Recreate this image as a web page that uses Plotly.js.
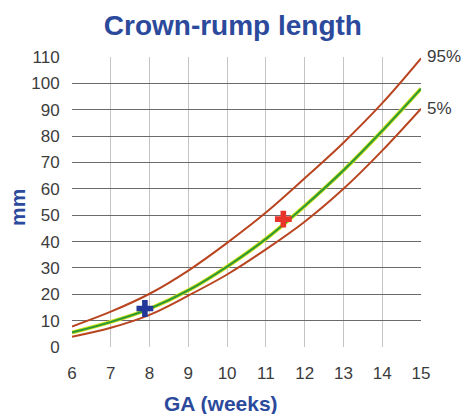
<!DOCTYPE html>
<html>
<head>
<meta charset="utf-8">
<script src="https://cdn.plot.ly/plotly-3.0.1.min.js"></script>
<style>html,body{margin:0;padding:0;background:#fff;}#chart{width:463px;height:414px;}</style>
</head>
<body>
<div id="chart"></div>
<script>
const weeks = [6, 7, 8, 9, 10, 11, 12, 13, 14, 15];
const p95 = [7.8, 13.4, 20.2, 29, 39.5, 51, 64, 77.5, 92.5, 109.5];
const p50 = [5.5, 9.5, 14.5, 21.5, 30.5, 41, 53.5, 67, 82, 98];
const p5 = [3.9, 7.3, 12.2, 19.5, 27.5, 37, 47.5, 60, 74.5, 90.4];
const markBlue = {x: [7.88], y: [14.6]};
const markRed = {x: [11.45], y: [48.5]};
const yTicks = [0, 10, 20, 30, 40, 50, 60, 70, 80, 90, 100, 110];
const xTicks = [6, 7, 8, 9, 10, 11, 12, 13, 14, 15];
const curveLabels = ['95%', '5%'];

const redCol = '#b8451f';
const blueTxt = '#2c4a9c';
const traces = [
  {x: weeks, y: p95, mode: 'lines', line: {color: redCol, width: 2, shape: 'spline'}, hoverinfo: 'skip'},
  {x: weeks, y: p5, mode: 'lines', line: {color: redCol, width: 2, shape: 'spline'}, hoverinfo: 'skip'},
  {x: weeks, y: p50, mode: 'lines', line: {color: '#d7e41a', width: 4, shape: 'spline'}, hoverinfo: 'skip'},
  {x: weeks, y: p50, mode: 'lines', line: {color: '#2f9a35', width: 2.2, shape: 'spline'}, hoverinfo: 'skip'},
  {x: markBlue.x, y: markBlue.y, mode: 'markers', marker: {symbol: 'cross', size: 14, color: '#23399a'}},
  {x: markRed.x, y: markRed.y, mode: 'markers', marker: {symbol: 'cross', size: 14, color: '#e8352c'}}
];

const layout = {
  width: 463, height: 414,
  margin: {l: 72, r: 42, t: 57, b: 67},
  paper_bgcolor: '#fff', plot_bgcolor: '#fff',
  showlegend: false,
  font: {family: 'Liberation Sans, Arial, sans-serif', color: '#3c3c3c', size: 17},
  title: {text: '<b>Crown-rump length</b>', x: 0.503, xanchor: 'center', y: 0.94, yanchor: 'middle',
          font: {size: 28, color: blueTxt, family: 'Liberation Sans, Arial, sans-serif'}},
  xaxis: {
    range: [6, 15], tickvals: xTicks, ticktext: xTicks.map(String),
    showgrid: true, gridcolor: '#c4c4c4', gridwidth: 1,
    zeroline: false, showline: false,
    ticks: 'outside', ticklen: 11, tickcolor: 'rgba(0,0,0,0)',
    tickfont: {size: 17, color: '#3c3c3c'}
  },
  yaxis: {
    range: [0, 110], tickvals: yTicks, ticktext: yTicks.map(String),
    showgrid: true, gridcolor: '#6a6a6a', gridwidth: 1,
    zeroline: false, showline: false,
    ticks: 'outside', ticklen: 8, tickcolor: 'rgba(0,0,0,0)',
    tickfont: {size: 17, color: '#3c3c3c'}
  },
  annotations: [
    {x: 221, y: 403, xref: 'paper', yref: 'paper', text: '<b>GA (weeks)</b>', showarrow: false,
     xanchor: 'center', yanchor: 'middle', font: {size: 21, color: blueTxt}},
    {x: 17, y: 208, text: '<b>mm</b>', showarrow: false, textangle: -90,
     xanchor: 'center', yanchor: 'middle', font: {size: 21, color: blueTxt}},
    {x: 15, y: 110, xref: 'x', yref: 'y', text: curveLabels[0], showarrow: false, xanchor: 'left', xshift: 4, yshift: 1,
     font: {size: 17, color: '#3c3c3c'}},
    {x: 15, y: 90.4, xref: 'x', yref: 'y', text: curveLabels[1], showarrow: false, xanchor: 'left', xshift: 4, yshift: 0,
     font: {size: 17, color: '#3c3c3c'}}
  ]
};
// convert pixel-positioned axis titles to paper coords
const pw = 463 - 72 - 42, ph = 414 - 57 - 67;
layout.annotations[0].x = (221 - 72) / pw; layout.annotations[0].y = (414 - 67 - 403) / ph;
layout.annotations[1].xref = 'paper'; layout.annotations[1].yref = 'paper';
layout.annotations[1].x = (17 - 72) / pw; layout.annotations[1].y = (414 - 67 - 208) / ph;
Plotly.newPlot('chart', traces, layout, {staticPlot: true, displayModeBar: false});
</script>
</body>
</html>
